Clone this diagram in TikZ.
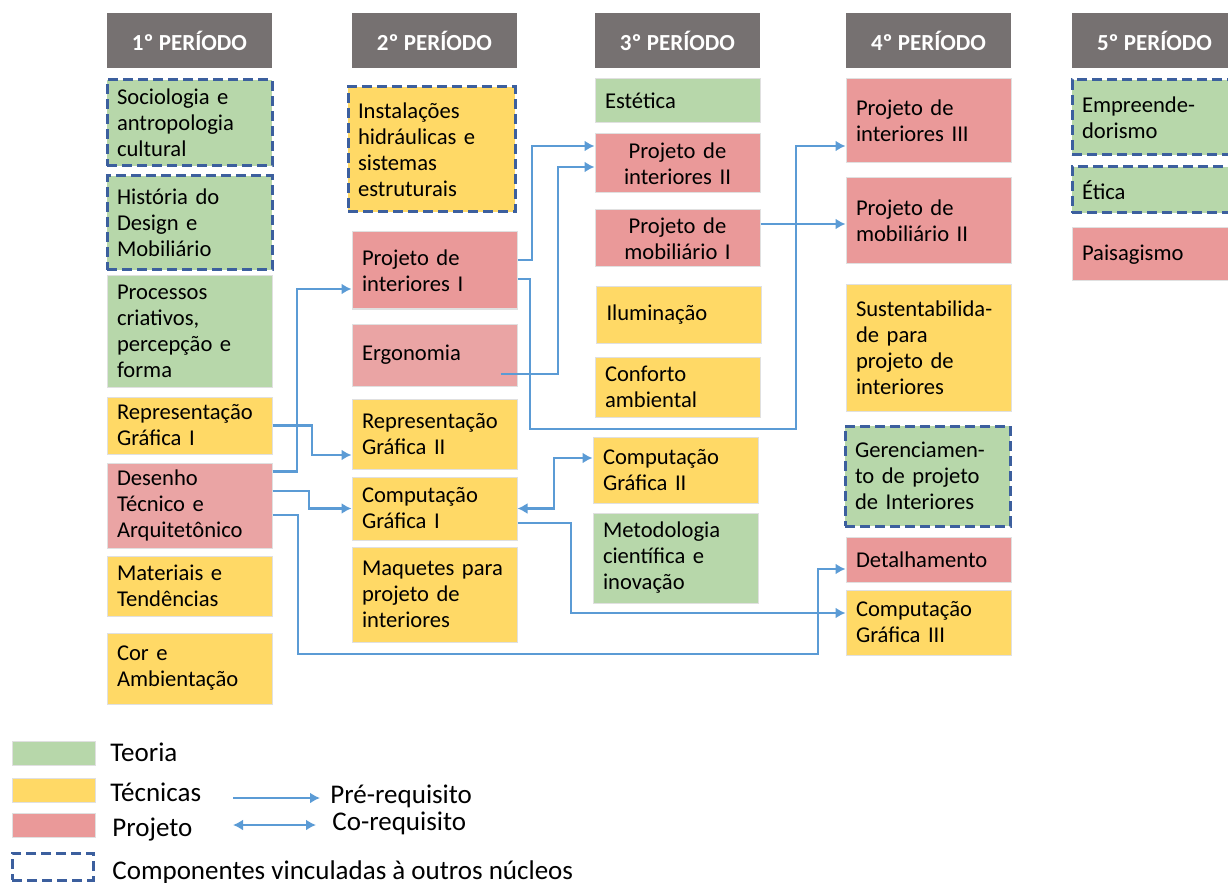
\documentclass[tikz,border=0pt]{standalone}
\usepackage{fontspec}
\setmainfont{Carlito}
\usetikzlibrary{arrows.meta, calc}

\definecolor{cHead}{RGB}{118,113,113}
\definecolor{cTeoria}{RGB}{183,215,170}
\definecolor{cTecnica}{RGB}{255,217,102}
\definecolor{cProjeto}{RGB}{234,153,153}
\definecolor{cProjLight}{RGB}{234,164,164}
\definecolor{cVinc}{RGB}{60,95,158}
\definecolor{cArrow}{RGB}{91,155,213}

\begin{document}
\begin{tikzpicture}[x=0.5pt, y=-0.5pt,
    disciplina/.style={rectangle, draw=black!12, line width=0.5pt, inner xsep=5pt, inner ysep=0pt, text width=72.5pt, align=left, font=\fontsize{11.3}{13}\selectfont},
    teoria/.style={disciplina, fill=cTeoria},
    tecnica/.style={disciplina, fill=cTecnica},
    projeto/.style={disciplina, fill=cProjeto},
    vinculada/.style={draw=cVinc, line width=1.5pt, dash pattern=on 5pt off 2.5pt},
    periodo/.style={rectangle, fill=cHead, text=white, minimum width=82.5pt, minimum height=27.5pt, font=\fontsize{11.5}{13}\selectfont\bfseries},
    swatch/.style={rectangle, draw=black!12, line width=0.5pt, minimum width=41.5pt, minimum height=12pt, inner sep=0pt},
    legtext/.style={anchor=base west, inner sep=0pt, font=\fontsize{13.5}{15}\selectfont},
    arrow/.style={-{Latex[length=5pt,width=5.5pt]}, draw=cArrow, line width=1.4pt},
    coarrow/.style={arrow, {Latex[length=5pt,width=5.5pt]}-{Latex[length=5pt,width=5.5pt]}}
  ]
  \useasboundingbox (0,0) rectangle (1228,883);
  \clip (0,0) rectangle (1228,883);

  % Periods
  \foreach \i/\x in {1/189.5, 2/434.5, 3/677.5, 4/928.5, 5/1154.5} {
      \node[periodo] (per\i) at (\x,40.5) {{\i}º PERÍODO};
    }

  % 1º período
  \node[teoria, vinculada, minimum height=43pt] (soc) at (189.5,123) {Sociologia e\\antropologia\\cultural};
  \node[teoria, vinculada, minimum height=47pt] (hist) at (189.5,223) {História do\\Design e\\Mobiliário};
  \node[teoria, minimum height=55.5pt] (proc) at (189.5,331.5) {Processos\\criativos,\\percepção e\\forma};
  \node[tecnica, minimum height=28.5pt] (rg1) at (189.5,425.5) {Representação\\Gráfica I};
  \node[projeto, fill=cProjLight, minimum height=42.5pt] (dt) at (189.5,505.5) {Desenho\\Técnico e\\Arquitetônico};
  \node[tecnica, minimum height=30pt] (mat) at (189.5,586) {Materiais e\\Tendências};
  \node[tecnica, minimum height=35.5pt] (cor) at (189.5,668.5) {Cor e\\Ambientação};

  % 2º período
  \node[tecnica, vinculada, text width=73.5pt, minimum height=62.5pt] (inst) at (431.5,149.5) {Instalações\\hidráulicas e\\sistemas\\estruturais};
  \node[projeto, minimum height=38.5pt] (pi1) at (434.5,270.5) {Projeto de\\interiores I};
  \node[projeto, fill=cProjLight, minimum height=31pt] (ergo) at (434.5,355) {Ergonomia};
  \node[tecnica, minimum height=35pt] (rg2) at (434.5,434) {Representação\\Gráfica II};
  \node[tecnica, minimum height=31.5pt] (cg1) at (434.5,508.5) {Computação\\Gráfica I};
  \node[tecnica, minimum height=47.5pt] (maq) at (434.5,594.5) {Maquetes para\\projeto de\\interiores};

  % 3º período
  \node[teoria, minimum height=22pt] (est) at (677.5,101) {Estética};
  \node[projeto, align=center, minimum height=29.5pt] (pi2) at (677.5,163.5) {Projeto de\\interiores II};
  \node[projeto, align=center, minimum height=28.5pt] (pm1) at (677.5,238.5) {Projeto de\\mobiliário I};
  \node[tecnica, minimum height=28pt] (ilu) at (679,315) {Iluminação};
  \node[tecnica, minimum height=30pt] (conf) at (677.5,387) {Conforto\\ambiental};
  \node[tecnica, minimum height=33pt] (cg2) at (675.5,470) {Computação\\Gráfica II};
  \node[teoria, minimum height=45pt] (met) at (675.5,558) {Metodologia\\científica e\\inovação};

  % 4º período
  \node[projeto, minimum height=42pt] (pi3) at (928.5,121) {Projeto de\\interiores III};
  \node[projeto, minimum height=43pt] (pm2) at (928.5,221) {Projeto de\\mobiliário II};
  \node[tecnica, minimum height=63pt] (sus) at (928.5,348) {Sustentabilida-\\de para\\projeto de\\interiores};
  \node[teoria, vinculada, minimum height=50pt] (ger) at (927.5,476) {Gerenciamen-\\to de projeto\\de Interiores};
  \node[projeto, minimum height=22.5pt] (det) at (928.5,559.5) {Detalhamento};
  \node[tecnica, minimum height=32.5pt] (cg3) at (928.5,622.5) {Computação\\Gráfica III};

  % 5º período
  \node[teoria, vinculada, minimum height=37.5pt] (emp) at (1154.5,117.5) {Empreende-\\dorismo};
  \node[teoria, vinculada, minimum height=23pt] (etica) at (1154.5,190) {Ética};
  \node[projeto, minimum height=26.5pt] (pais) at (1154.5,254.5) {Paisagismo};

  % Pre-requisites from 1º período
  \draw[arrow] (rg1.east) -| (312,455) -- ($(rg2.west)+(0,21)$);
  \draw[arrow] ($(dt.north east)+(0,9)$) -| (297,289) -- ($(pi1.west)+(0,18.5)$);
  \draw[arrow] ($(dt.east)+(0,-14.5)$) -| (309,508.5) -- (cg1.west);
  \draw[arrow] ($(dt.east)+(0,9.5)$) -| (298,654) -| (818,569) -- ($(det.west)+(0,9.5)$);

  % Co-requisite and pre-requisites from 2º período
  \draw[coarrow] (cg1.east) -| (554,458) -- ($(cg2.west)+(0,-12)$);
  \draw[arrow] ($(cg1.east)+(0,14.5)$) -| (571,613) -- ($(cg3.west)+(0,-9.5)$);
  \draw[arrow] ($(pi1.east)+(0,-10.5)$) -| (532,146) -- ($(pi2.west)+(0,-17.5)$);
  \draw[arrow] ($(ergo.east)+(-17,19)$) -| (558,167) -- ($(pi2.west)+(0,3.5)$);
  \draw[arrow] ($(pi1.east)+(0,8.5)$) -| (530,429) -| (796,146) -- ($(pi3.west)+(0,25)$);

  % Pre-requisite from 3º período
  \draw[arrow] ($(pm1.east)+(0,-14.5)$) -- ($(pm2.west)+(0,3)$);

  % Legend
  \node[swatch, fill=cTeoria] (legTeoria) at (53.5,753) {};
  \node[swatch, fill=cTecnica] (legTecnica) at (53.5,790) {};
  \node[swatch, fill=cProjeto] (legProjeto) at (53.5,825.5) {};
  \node[swatch, vinculada, minimum width=40.5pt, minimum height=13.5pt] (legVinc) at (52.5,866.5) {};
  \node[legtext] (txtTeoria) at (110,761) {Teoria};
  \node[legtext] (txtTecnica) at (110,801) {Técnicas};
  \node[legtext] (txtProjeto) at (112,836) {Projeto};
  \node[legtext] (txtVinc) at (112,879) {Componentes vinculadas à outros núcleos};
  \node[legtext] (txtPre) at (330,803) {Pré-requisito};
  \node[legtext] (txtCo) at (332,830) {Co-requisito};

  \coordinate (preA) at (233,798);
  \coordinate (preB) at (320,798);
  \draw[arrow, line width=1.1pt] (preA) -- (preB);
  \coordinate (coA) at (233,825);
  \coordinate (coB) at (316,825);
  \draw[coarrow, line width=1.1pt] (coA) -- (coB);

\end{tikzpicture}
\end{document}
